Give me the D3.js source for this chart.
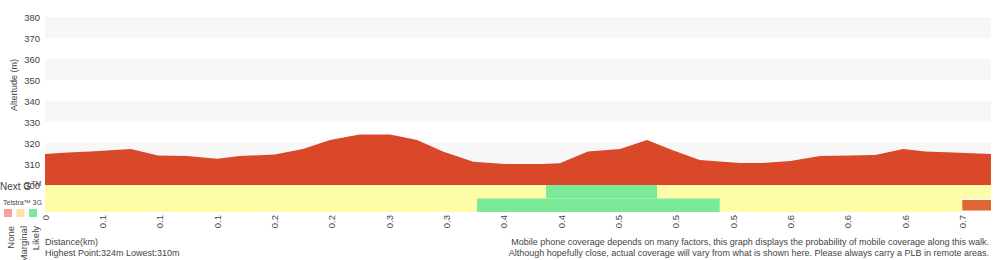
<!DOCTYPE html>
<html>
<head>
<meta charset="utf-8">
<script src="https://cdn.jsdelivr.net/npm/d3@7"></script>
<style>
  body { margin: 0; background: #fff; }
  svg text { font-family: "Liberation Sans", Arial, sans-serif; fill: #444; }
</style>
</head>
<body>
<div id="chart"></div>
<script>
// x positions are in tick steps (one step per distance label)
const tickLabels = ["0", "0.1", "0.1", "0.1", "0.2", "0.2", "0.3", "0.3", "0.4", "0.4", "0.5", "0.5", "0.5", "0.6", "0.6", "0.6", "0.7"];
const yTicks = [300, 310, 320, 330, 340, 350, 360, 370, 380];
const bands = [[310, 320], [330, 340], [350, 360], [370, 380]];

const profileX = [0, 0.4, 0.79, 1.5, 1.97, 2.48, 3.0, 3.4, 4.01, 4.5, 4.97, 5.49, 6.02, 6.49, 6.94, 7.47, 8.02, 8.67, 8.98, 9.47, 10.03, 10.5, 10.95, 11.42, 12.12, 12.52, 13.0, 13.52, 14.04, 14.48, 14.97, 15.35, 15.96, 16.5];
const altitude = [314.8, 315.5, 315.9, 317.1, 314.0, 313.8, 312.5, 313.8, 314.5, 317.1, 321.4, 324.1, 324.1, 321.4, 315.9, 311.1, 310.0, 310.0, 310.4, 316.0, 317.1, 321.4, 316.5, 311.9, 310.5, 310.5, 311.4, 313.8, 314.0, 314.3, 317.1, 316.0, 315.4, 314.8];

const networks = ["Next G", "Telstra 3G"];
const nextG = [[0, 8.74, "Marginal"], [8.74, 10.675, "Likely"], [10.675, 16.5, "Marginal"]];
const telstra3G = [[0, 7.535, "Marginal"], [7.535, 11.77, "Likely"], [11.77, 16.0, "Marginal"], [16.0, 16.5, "Unknown"]];

const legendLevels = ["None", "Marginal", "Likely"];
const legendColors = {None: "#ff9e9e", Marginal: "#ffe0a8", Likely: "#7ee89a"};
const cellColors = {Marginal: "#fffca8", Likely: "#7aea98", Unknown: "#e0652f"};

const svg = d3.select("#chart").append("svg")
    .attr("width", 1000)
    .attr("height", 260);

const x = d3.scaleLinear().domain([0, 16.5]).range([45, 991]);
const y = d3.scaleLinear().domain([300, 380]).range([185, 17]);
const row = d3.scaleBand().domain(networks).range([185, 212]);

// grey bands
svg.selectAll(".band")
    .data(bands)
    .enter().append("rect")
    .attr("class", "band")
    .attr("x", x(0))
    .attr("width", x(16.5) - x(0))
    .attr("y", d => y(d[1]))
    .attr("height", d => y(d[0]) - y(d[1]))
    .style("fill", "#f7f7f7");

// altitude area
const profile = profileX.map((d, i) => ({x: d, alt: altitude[i]}));
const area = d3.area()
    .x(d => x(d.x))
    .y0(y(300))
    .y1(d => y(d.alt));

svg.append("path")
    .datum(profile)
    .attr("d", area)
    .style("fill", "#d94828");

// coverage rows
[nextG, telstra3G].forEach(function(cells, r) {
    const net = networks[r];
    svg.selectAll(".cell-" + r)
        .data(cells)
        .enter().append("rect")
        .attr("class", "cell-" + r)
        .attr("x", d => x(d[0]))
        .attr("width", d => x(d[1]) - x(d[0]))
        .attr("y", d => row(net) + (d[2] == "Unknown" ? 1.5 : 0))
        .attr("height", d => row.bandwidth() - (d[2] == "Unknown" ? 3 : 0))
        .style("fill", d => cellColors[d[2]]);
});

// axes
const yAxis = svg.append("g")
    .attr("transform", "translate(45,0)")
    .call(d3.axisLeft(y).tickValues(yTicks).tickSize(0).tickPadding(5));
yAxis.select(".domain").remove();
yAxis.selectAll("text").style("font-size", "9.5px").style("font-family", null).style("fill", "#444");

const xAxis = svg.append("g")
    .attr("transform", "translate(0,212)")
    .call(d3.axisBottom(x).tickValues(d3.range(tickLabels.length)).tickFormat(i => tickLabels[i]).tickSize(0));
xAxis.select(".domain").remove();
xAxis.selectAll("text")
    .style("font-size", "9.5px")
    .style("font-family", null)
    .attr("transform", "rotate(-90)")
    .attr("x", -3)
    .attr("y", 0)
    .attr("dy", "0.35em")
    .style("text-anchor", "end");

svg.append("text")
    .attr("transform", "translate(17,85) rotate(-90)")
    .style("text-anchor", "middle")
    .style("font-size", "9px")
    .text("Altertude (m)");

// row labels + legend
const nextLabel = svg.append("text")
    .attr("x", 0)
    .attr("y", 190)
    .style("font-size", "10px");
nextLabel.append("tspan").text("Next G");
nextLabel.append("tspan").attr("dy", -4).style("font-size", "7px").text("TM");

svg.append("text")
    .attr("x", 3)
    .attr("y", 205)
    .style("font-size", "7px")
    .text("Telstra™ 3G");

svg.selectAll(".legend-box")
    .data(legendLevels)
    .enter().append("rect")
    .attr("class", "legend-box")
    .attr("x", (d, i) => 4 + i * 12.5)
    .attr("y", 209)
    .attr("width", 8)
    .attr("height", 8)
    .style("fill", d => legendColors[d]);

svg.selectAll(".legend-label")
    .data(legendLevels)
    .enter().append("text")
    .attr("class", "legend-label")
    .attr("transform", (d, i) => `translate(${11 + i * 12.5},226) rotate(-90)`)
    .attr("dy", "0.35em")
    .style("text-anchor", "end")
    .style("font-size", "9.5px")
    .text(d => d);

// footer text
svg.append("text").attr("x", 45).attr("y", 245).style("font-size", "9px").text("Distance(km)");
svg.append("text").attr("x", 45).attr("y", 256).style("font-size", "9px").text("Highest Point:324m Lowest:310m");
svg.append("text").attr("x", 989).attr("y", 245).style("font-size", "9px").style("text-anchor", "end")
    .text("Mobile phone coverage depends on many factors, this graph displays the probability of mobile coverage along this walk.");
svg.append("text").attr("x", 989).attr("y", 256).style("font-size", "9px").style("text-anchor", "end")
    .text("Although hopefully close, actual coverage will vary from what is shown here. Please always carry a PLB in remote areas.");
</script>
</body>
</html>
